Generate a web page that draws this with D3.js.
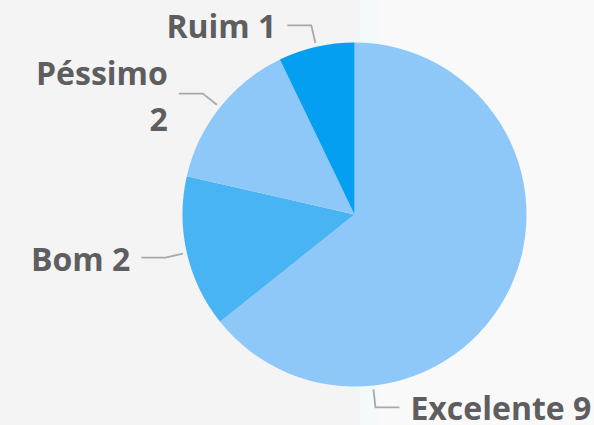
<!DOCTYPE html>
<html>
<head>
<meta charset="utf-8">
<script src="https://cdn.jsdelivr.net/npm/d3@7"></script>
<style>
  html, body { margin: 0; padding: 0; background: #f5f5f5; }
  svg { display: block; }
  .lbl { font-family: "Open Sans", "Noto Sans", sans-serif; font-weight: 700; fill: #5e5e5e; }
</style>
</head>
<body>
<div id="chart"></div>
<script>
// data
var categories = ["Excelente", "Bom", "Péssimo", "Ruim"];
var counts = [9, 2, 2, 1];
var sliceColors = ["#8ec8f8", "#48b4f4", "#8ec8f8", "#049ff0"];

var width = 594, height = 425;
var cx = 354.5, cy = 214.5, radius = 172;
var fontSize = 32;

var svg = d3.select("#chart").append("svg")
  .attr("width", width)
  .attr("height", height);

// faint background bands
svg.append("rect").attr("x", 0).attr("y", 0).attr("width", 360).attr("height", height).attr("fill", "#f4f4f5");
svg.append("rect").attr("x", 360).attr("y", 0).attr("width", 19).attr("height", height).attr("fill", "#f4f9f9");
svg.append("rect").attr("x", 379).attr("y", 0).attr("width", width - 379).attr("height", height).attr("fill", "#f9f9f9");

var rows = categories.map(function (c, i) { return { name: c, value: counts[i], color: sliceColors[i] }; });

var pie = d3.pie().sort(null).value(function (d) { return d.value; });
var arcs = pie(rows);

var arc = d3.arc().innerRadius(0).outerRadius(radius);

var g = svg.append("g").attr("transform", "translate(" + cx + "," + cy + ")");

g.selectAll(".slice")
  .data(arcs).enter()
  .append("path")
  .attr("class", "slice")
  .attr("d", arc)
  .attr("fill", function (d) { return d.data.color; });

// the big slice's label is pushed toward the bottom to stay inside the frame
var labelAngle = { "Excelente": 173.8 * Math.PI / 180 };

function polar(a, r) { return [Math.sin(a) * r, -Math.cos(a) * r]; }

arcs.forEach(function (d) {
  var a = labelAngle[d.data.name] !== undefined ? labelAngle[d.data.name] : (d.startAngle + d.endAngle) / 2;
  var p0 = polar(a, radius + 4);
  var p1 = polar(a, radius + 22);
  var right = p1[0] > 0;
  var p2 = [p1[0] + (right ? 24 : -24), p1[1]];

  g.append("path")
    .attr("d", d3.line()([p0, p1, p2]))
    .attr("fill", "none")
    .attr("stroke", "#a8a8a8")
    .attr("stroke-width", 1.8);

  var tx = p2[0] + (right ? 11 : -11);
  var t = g.append("text")
    .attr("class", "lbl")
    .attr("font-size", fontSize)
    .attr("text-anchor", right ? "start" : "end")
    .attr("x", tx)
    .attr("y", p2[1] + 13)
    .text(d.data.name + " " + d.data.value);

  // wrap onto two lines when the label gets too close to the left edge
  var w = t.node().getComputedTextLength();
  if (!right && cx + tx - w < 30) {
    t.text(null).attr("y", p2[1] + 14 - 23);
    t.append("tspan").attr("x", tx).text(d.data.name);
    t.append("tspan").attr("x", tx).attr("dy", 46).text(d.data.value);
  }
});
</script>
</body>
</html>
